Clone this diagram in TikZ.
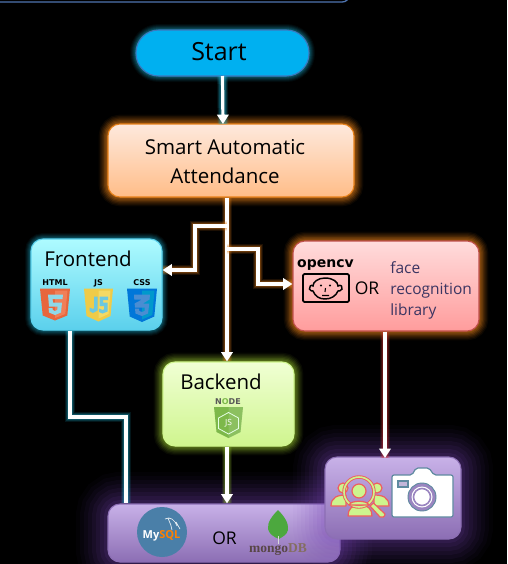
\documentclass[tikz,border=0pt]{standalone}
\usepackage{fontspec}
\setmainfont{Open Sans}
\newfontfamily\serifb{Liberation Serif}
\newfontfamily\heavy{DejaVu Sans}
\usetikzlibrary{arrows.meta}
\definecolor{fronttop}{HTML}{AEFBFF}\definecolor{frontbot}{HTML}{5BD0EC}
\definecolor{smarttop}{HTML}{FEE9DD}\definecolor{smartbot}{HTML}{FFBD88}
\definecolor{cvtop}{HTML}{FFDCDC}\definecolor{cvbot}{HTML}{FF9C9C}
\definecolor{backtop}{HTML}{F0FFD4}\definecolor{backbot}{HTML}{CFF58E}
\definecolor{dbtop}{HTML}{C8B1E8}\definecolor{dbbot}{HTML}{8C6EB4}
\definecolor{facetxt}{HTML}{3B3562}
\definecolor{lime}{HTML}{CDF58E}\definecolor{coral}{HTML}{EE5F5F}
\definecolor{camline}{HTML}{5F8AA0}\definecolor{campur}{HTML}{9A85C0}
\definecolor{startfill}{HTML}{00B0F0}\definecolor{startline}{HTML}{3C78BE}
\definecolor{cvline}{HTML}{C0504D}\definecolor{purglow}{HTML}{7A48B8}
\definecolor{stripc}{HTML}{4F74B0}\definecolor{mysqlc}{HTML}{4A7FA8}
\definecolor{mongoc}{HTML}{584646}\definecolor{dbgrey}{HTML}{846E60}
\definecolor{glowc}{HTML}{20B8D8}\definecolor{glowo}{HTML}{E8821A}
\definecolor{glowg}{HTML}{8CB82C}\definecolor{glowr}{HTML}{E03030}
\definecolor{nodeg}{HTML}{7DB84A}\definecolor{leafg}{HTML}{4CA83E}
\definecolor{htmla}{HTML}{E8663C}\definecolor{htmlb}{HTML}{F07F58}
\definecolor{jsa}{HTML}{EFCB48}\definecolor{jsb}{HTML}{F4D964}
\definecolor{glyphc}{HTML}{8FD8E8}\definecolor{glyphj}{HTML}{6CC8E0}
\newcommand{\pxsize}[1]{\fontsize{\fpeval{#1*0.75}}{\fpeval{#1*0.9}}\selectfont}
\tikzset{
 x=0.75pt,y=-0.75pt,
 glow/.style={
  preaction={draw=#1,line width=14pt,draw opacity=.06},
  preaction={draw=#1,line width=12pt,draw opacity=.08},
  preaction={draw=#1,line width=10pt,draw opacity=.10},
  preaction={draw=#1,line width=8pt,draw opacity=.13},
  preaction={draw=#1,line width=6pt,draw opacity=.16},
  preaction={draw=#1,line width=4pt,draw opacity=.18},
  preaction={draw=#1,line width=2pt,draw opacity=.22}},
 smallgl/.style={
  preaction={draw=#1,line width=9pt,draw opacity=.05},
  preaction={draw=#1,line width=7.5pt,draw opacity=.07},
  preaction={draw=#1,line width=6pt,draw opacity=.09},
  preaction={draw=#1,line width=4.5pt,draw opacity=.11},
  preaction={draw=#1,line width=3pt,draw opacity=.14},
  preaction={draw=#1,line width=1.5pt,draw opacity=.18}},
 widegl/.style={
  preaction={draw=#1,line width=48pt,draw opacity=.03},
  preaction={draw=#1,line width=42pt,draw opacity=.04},
  preaction={draw=#1,line width=36pt,draw opacity=.05},
  preaction={draw=#1,line width=30pt,draw opacity=.06},
  preaction={draw=#1,line width=24pt,draw opacity=.07},
  preaction={draw=#1,line width=18pt,draw opacity=.08},
  preaction={draw=#1,line width=12pt,draw opacity=.09},
  preaction={draw=#1,line width=6pt,draw opacity=.10}},
 boxn/.style={rectangle,rounded corners=9pt,inner sep=0pt,line width=.8pt},
 lbl/.style={inner sep=0pt,text=black,align=center},
 wire/.style={draw=white,line width=2.4pt,line join=miter,
  preaction={draw=#1,line width=8pt,draw opacity=.12,-},
  preaction={draw=#1,line width=6.5pt,draw opacity=.18,-},
  preaction={draw=#1,line width=5pt,draw opacity=.25,-}},
 tip/.style={-{Triangle[width=8.5pt,length=7pt]}},
 tiny/.style={inner sep=0pt,font=\heavy\bfseries\pxsize{8},text=black},
 facelbl/.style={inner sep=0pt,anchor=base west,text=facetxt,font=\pxsize{15.5}},
}
\begin{document}
\begin{tikzpicture}
\useasboundingbox (0,0) rectangle (507,564);
\fill[black] (0,0) rectangle (507,564);
\clip (0,0) rectangle (507,564);
% top strip
\draw[draw=stripc,line width=1pt,rounded corners=5pt,fill=black] (-10,-20) rectangle (349,2);

% boxes
\node[boxn,rounded corners=17pt,minimum width=173*.75pt,minimum height=46*.75pt,fill=startfill,draw=startline,smallgl=glowc] (start) at (222.5,53) {};
\node[boxn,minimum width=246*.75pt,minimum height=73*.75pt,top color=smarttop,bottom color=smartbot,draw=glowo,glow=glowo] (smart) at (231,160.5) {};
\node[boxn,minimum width=131*.75pt,minimum height=91*.75pt,top color=fronttop,bottom color=frontbot,draw=frontbot,smallgl=glowc] (front) at (96.5,284.5) {};
\node[boxn,minimum width=186*.75pt,minimum height=90*.75pt,top color=cvtop,bottom color=cvbot,draw=cvline,glow=glowo] (cv) at (386,286) {};
\node[boxn,minimum width=131*.75pt,minimum height=84*.75pt,top color=backtop,bottom color=backbot,draw=backbot,glow=glowg] (back) at (228.5,404) {};
\node[boxn,minimum width=232*.75pt,minimum height=58*.75pt,top color=dbtop,bottom color=dbbot,draw=dbbot,widegl=purglow] (db) at (224,533) {};
\node[boxn,minimum width=136*.75pt,minimum height=82*.75pt,top color=dbtop,bottom color=dbbot,draw=dbbot,widegl=purglow] (cam) at (393,498) {};

% connector coordinates
\coordinate (j1) at (227,226);
\coordinate (j2) at (227,249);
\coordinate (s0) at (222.5,76);
\coordinate (s1) at (223,124);
\coordinate (t1) at (195,226);
\coordinate (t2) at (195,270);
\coordinate (t3) at (258,249);
\coordinate (t4) at (258,284);
\coordinate (f1) at (70,417);
\coordinate (f2) at (126,417);

% connectors
\draw[wire=glowo,tip] (smart.south -| j1) -- (back.north -| j1);
\draw[wire=glowc,tip] (s0) -- (s1);
\draw[wire=glowo,tip] (j1) -- (t1) -- (t2) -- (front.east |- t2);
\draw[wire=glowo,tip] (j2) -- (t3) -- (t4) -- (cv.west |- t4);
\draw[wire=glowc] (front.south -| f1) -- (f1) -- (f2) -- (db.north -| f2);
\draw[wire=glowg,tip] (back.south -| j1) -- (db.north -| j1);
\coordinate (c1) at (385,458);
\draw[wire=glowr,tip] (cv.south -| c1) -- (c1);

% titles
\node[lbl,font=\pxsize{25}] (tstart) at (219,52) {Start};
\node[lbl,font=\pxsize{20.5}] (tsmart1) at (225,147.5) {Smart Automatic};
\node[lbl,font=\pxsize{20.5}] (tsmart2) at (225,175.5) {Attendance};
\node[lbl,font=\pxsize{20.5}] (tfront) at (88,259) {Frontend};
\node[lbl,font=\pxsize{20.5}] (tback) at (221,381.5) {Backend};
\node[lbl,font=\pxsize{17.5}] (orcv) at (367,288.5) {OR};
\node[lbl,font=\pxsize{17.5}] (ordb) at (224.5,538) {OR};
\node[facelbl] (f1t) at (390,273) {face};
\node[facelbl] (f2t) at (390,294) {recognition};
\node[facelbl] (f3t) at (390,315) {library};

% HTML5
\node[tiny] (lhtml) at (55,283) {HTML};
\node[tiny] (ljs) at (98.5,283) {JS};
\node[tiny] (lcss) at (142,283) {CSS};
\begin{scope}[shift={(40,288.5)}]
 \fill[htmla] (0,0) -- (30,0) -- (27.3,27) -- (15,32) -- (2.7,27) -- cycle;
 \fill[htmlb] (15,2) -- (27.5,2) -- (25.3,25.5) -- (15,29.5) -- cycle;
 \fill[glyphc] (8,6) -- (23,6) -- (22.5,10.5) -- (12.5,10.5) -- (13,14) -- (22,14) -- (21,24) -- (15,26.5) -- (9,24) -- (8.6,19.5) -- (12.5,19.5) -- (12.8,21.5) -- (15,22.5) -- (17.2,21.5) -- (17.6,18) -- (9,18) -- cycle;
\end{scope}
% JS
\begin{scope}[shift={(84,288.5)}]
 \fill[jsa] (0,0) -- (29,0) -- (26.5,27.5) -- (14.5,33) -- (2.5,27.5) -- cycle;
 \fill[jsb] (14.5,2) -- (26.5,2) -- (24.5,25.5) -- (14.5,30) -- cycle;
 \fill[glyphj] (10,8) -- (13.5,8) -- (13.5,22) -- (9,24.5) -- (5.5,22.5) -- (5.5,19) -- (9,20.5) -- (10,19.5) -- cycle;
 \fill[glyphj] (15.5,8) -- (24,8) -- (24,11.5) -- (19,11.5) -- (19,14) -- (23.5,14) -- (23.5,23) -- (18.5,25) -- (15,23.5) -- (15,20) -- (18.5,21.5) -- (20,20.8) -- (20,17.5) -- (15.5,17.5) -- cycle;
\end{scope}
% CSS
\begin{scope}[shift={(127,288.5)}]
 \fill[blue!45!cyan!85!black] (0,0) -- (30,0) -- (27.3,28) -- (15,33.5) -- (2.7,28) -- cycle;
 \fill[blue!25!cyan!80!black] (15,2) -- (27.5,2) -- (25.3,26.5) -- (15,31) -- cycle;
 \fill[cyan!55!blue!75!white] (7,6) -- (23,6) -- (22.5,11) -- (16,15) -- (22.3,15) -- (21,25) -- (15,27.5) -- (8.5,25) -- (8,20) -- (12,20) -- (12.3,22.5) -- (15,23.5) -- (17.5,22.5) -- (17.8,19) -- (8,19) -- (7.6,15) -- (15,11) -- (7.3,11) -- cycle;
\end{scope}

% opencv
\node[inner sep=0pt,font=\heavy\bfseries\pxsize{14},text=black] (locv) at (325.5,265) {opencv};
\node[draw=black,line width=1.3pt,rounded corners=1pt,minimum width=46*.75pt,minimum height=28*.75pt,inner sep=0pt] (cvface) at (326,288) {};
\draw[black,line width=1.1pt] (325,278) .. controls (333,278) and (338,282) .. (338,286) .. controls (341,284) and (343,287) .. (342,289) .. controls (341,291) and (339,291) .. (338,291) .. controls (336,296) and (331,299) .. (325,299) .. controls (319,299) and (315,296) .. (313,291) .. controls (312,291) and (310,291) .. (309.5,289) .. controls (309,287) and (311,284) .. (313,286) .. controls (313,282) and (318,278) .. (325,278);
\fill[black] (321,285.5) circle (1.2) (330,285.5) circle (1.2);
\draw[black,line width=.8pt] (325.5,288) -- (325,292) (322,295.5) -- (329,295.5);

% node.js
\node[inner sep=0pt,font=\heavy\bfseries\pxsize{8},text=black!65] (lnode) at (228,402) {N\textcolor{nodeg}{O}DE};
\begin{scope}[shift={(214,407)}]
 \fill[nodeg] (0,0) -- (29,0) -- (26.5,25) -- (14.5,31) -- (2.5,25) -- cycle;
 \fill[white,opacity=.12] (14.5,0) -- (29,0) -- (26.5,25) -- (14.5,31) -- cycle;
 \draw[white!90!green,line width=.6pt] (14.5,5.5) -- (24.5,11) -- (24.5,21.5) -- (14.5,27) -- (4.5,21.5) -- (4.5,11) -- cycle;
 \node[inner sep=0pt,text=white,font=\pxsize{8.5}] (ljsn) at (14.5,16) {JS};
\end{scope}

% MySQL
\fill[mysqlc] (162,532) circle (25);
\node[inner sep=0pt,font=\bfseries\pxsize{11},text=white] (lmysql) at (161.5,536) {My\textcolor{orange}{SQL}};
\draw[white,line width=.5pt,opacity=.9] (165,519) .. controls (170,516) and (175,520) .. (177,526) (176,522) -- (180,529) (168,518) .. controls (170,524) and (172,526) .. (172,530);

% mongodb
\fill[leafg] (278,510) .. controls (284,516) and (289,523) .. (288,530) .. controls (287,535) and (282,537) .. (279,539) .. controls (274,537) and (269,534) .. (268,529) .. controls (267,522) and (273,515) .. (278,510);
\draw[gray!30,line width=1pt] (278.5,536) -- (278.5,544);
\node[inner sep=0pt,font=\serifb\bfseries\pxsize{13.5},text=mongoc] (lmongo) at (278,550) {mongo\textcolor{dbgrey}{DB}};

% people search
\begin{scope}[draw=coral,fill=lime,line width=.9pt,line join=round]
 \filldraw (343,488) circle (5);
 \filldraw (377,488) circle (5);
 \filldraw (331,506) .. controls (331,497) and (338,495) .. (346,495) -- (346,506) -- cycle;
 \filldraw (389,506) .. controls (389,497) and (382,495) .. (374,495) -- (374,506) -- cycle;
 \filldraw (348,516) .. controls (348,509) and (352,505) .. (360,505) .. controls (368,505) and (372,509) .. (372,516) -- cycle;
 \filldraw (370,506) -- (373.5,503) -- (385,514) .. controls (385,517) and (382,518) .. (380,517) -- cycle;
 \draw[line width=2.6pt,draw=coral] (359,492) circle (15);
 \draw[line width=1.2pt,draw=lime] (359,492) circle (15);
 \filldraw (359,491) circle (7);
 \filldraw (349,505) .. controls (351,500) and (367,500) .. (369,505) -- cycle;
\end{scope}

% camera
\draw[camline,fill=white,line width=.9pt,rounded corners=1.5pt] (392,475) -- (412,475) -- (416,468) -- (429,468) -- (434,475) -- (453,475) -- (453,517) -- (392,517) -- cycle;
\draw[camline,fill=campur!60!white,line width=.8pt] (398,481) rectangle (408,487);
\filldraw[fill=campur,draw=camline,line width=.7pt] (422,497) circle (14);
\fill[white] (422,497) circle (10.5);
\draw[campur,line width=1.2pt] (422,497) circle (8.5);
\end{tikzpicture}
\end{document}
